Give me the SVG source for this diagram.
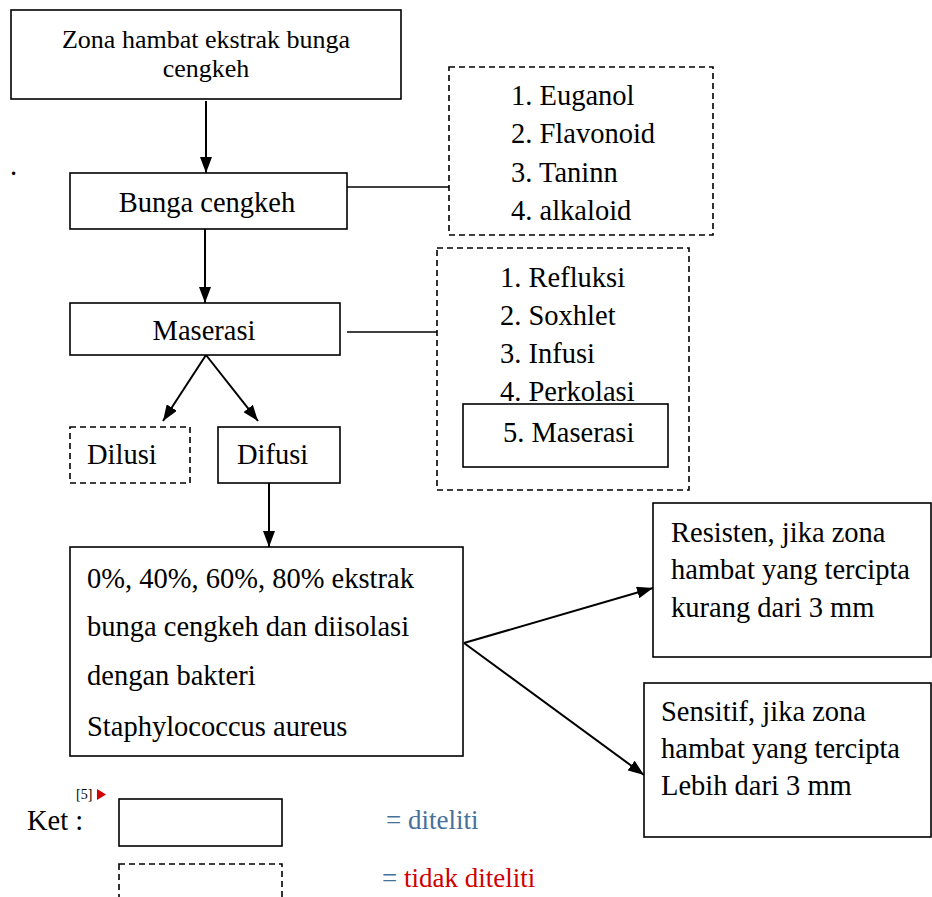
<svg xmlns="http://www.w3.org/2000/svg" width="932" height="897" viewBox="0 0 932 897">
  <style>
    .t { font-family: "Liberation Serif", "Times New Roman", serif; font-size: 28.5px; fill: #000; }
    .box { fill: #fff; stroke: #000; stroke-width: 1.6; }
    .dash { fill: #fff; stroke: #000; stroke-width: 1.6; stroke-dasharray: 6 4; }
    .ln { stroke: #000; stroke-width: 1.6; fill: none; }
    .arr { stroke: #000; stroke-width: 2; fill: none; marker-end: url(#ah); }
  </style>
  <defs>
    <marker id="ah" viewBox="0 0 16 12" markerWidth="16" markerHeight="12" refX="16" refY="6" orient="auto" markerUnits="userSpaceOnUse">
      <path d="M0,0 L16,6 L0,12 z" fill="#000"/>
    </marker>
  </defs>
  <rect width="932" height="897" fill="#fff"/>

  <text class="t" x="10" y="175">.</text>

  <g id="connectors">
    <line class="arr" x1="206" y1="101" x2="206" y2="173"/>
    <line class="arr" x1="205" y1="229" x2="205" y2="303"/>
    <line class="arr" x1="206" y1="355" x2="163" y2="421"/>
    <line class="arr" x1="206" y1="355" x2="258" y2="421"/>
    <line class="arr" x1="269" y1="483" x2="269" y2="547"/>
    <line class="arr" x1="464" y1="643" x2="653" y2="588"/>
    <line class="arr" x1="464" y1="643" x2="644" y2="775"/>
    <polyline class="ln" points="347,187 449,187"/>
    <polyline class="ln" points="347,332 437,332"/>
  </g>

  <g id="node-zona">
    <rect class="box" x="11" y="10" width="390" height="89"/>
    <text class="t" x="206" y="48" text-anchor="middle" style="font-size:26px">Zona hambat ekstrak bunga</text>
    <text class="t" x="206" y="77" text-anchor="middle" style="font-size:26px">cengkeh</text>
  </g>

  <g id="node-bunga">
    <rect class="box" x="70" y="173" width="277" height="56"/>
    <text class="t" x="207" y="212" text-anchor="middle">Bunga cengkeh</text>
  </g>

  <g id="node-senyawa">
    <rect class="dash" x="449" y="67" width="264" height="168"/>
    <text class="t" x="511" y="105">1. Euganol</text>
    <text class="t" x="511" y="143">2. Flavonoid</text>
    <text class="t" x="511" y="182">3. Taninn</text>
    <text class="t" x="511" y="220">4. alkaloid</text>
  </g>

  <g id="node-maserasi">
    <rect class="box" x="70" y="303" width="270" height="52"/>
    <text class="t" x="204" y="340" text-anchor="middle">Maserasi</text>
  </g>

  <g id="node-metode">
    <rect class="dash" x="437" y="248" width="252" height="242"/>
    <text class="t" x="500" y="287">1. Refluksi</text>
    <text class="t" x="500" y="325">2. Soxhlet</text>
    <text class="t" x="500" y="363">3. Infusi</text>
    <text class="t" x="500" y="401">4. Perkolasi</text>
    <rect class="box" x="463" y="404" width="205" height="63"/>
    <text class="t" x="503" y="442">5. Maserasi</text>
  </g>

  <g id="node-dilusi">
    <rect class="dash" x="70" y="427" width="120" height="56"/>
    <text class="t" x="87" y="464">Dilusi</text>
  </g>

  <g id="node-difusi">
    <rect class="box" x="218" y="427" width="122" height="56"/>
    <text class="t" x="237" y="464">Difusi</text>
  </g>

  <g id="node-ekstrak">
    <rect class="box" x="70" y="547" width="393" height="209"/>
    <text class="t" x="87" y="588">0%, 40%, 60%, 80% ekstrak</text>
    <text class="t" x="87" y="636">bunga cengkeh dan diisolasi</text>
    <text class="t" x="87" y="685">dengan bakteri</text>
    <text class="t" x="87" y="736">Staphylococcus aureus</text>
  </g>

  <g id="node-resisten">
    <rect class="box" x="653" y="503" width="278" height="154"/>
    <text class="t" x="671" y="542">Resisten, jika zona</text>
    <text class="t" x="671" y="579">hambat yang tercipta</text>
    <text class="t" x="671" y="617">kurang dari 3 mm</text>
  </g>

  <g id="node-sensitif">
    <rect class="box" x="644" y="683" width="287" height="154"/>
    <text class="t" x="661" y="721">Sensitif, jika zona</text>
    <text class="t" x="661" y="758">hambat yang tercipta</text>
    <text class="t" x="661" y="795">Lebih dari 3 mm</text>
  </g>

  <g id="legend">
    <text class="t" x="27" y="830">Ket :</text>
    <text class="t" x="76" y="799" style="font-size:14px">[5]</text>
    <path d="M97,789 L106,794.5 L97,800 z" fill="#d40000"/>
    <rect class="box" x="119" y="799" width="163" height="47"/>
    <rect class="dash" x="119" y="864" width="163" height="40"/>
    <text class="t" x="386" y="829" style="font-size:27px;fill:#46709a">= diteliti</text>
    <text class="t" x="382" y="887" style="font-size:27px;fill:#46709a">= <tspan fill="#d00000">tidak diteliti</tspan></text>
  </g>
</svg>
